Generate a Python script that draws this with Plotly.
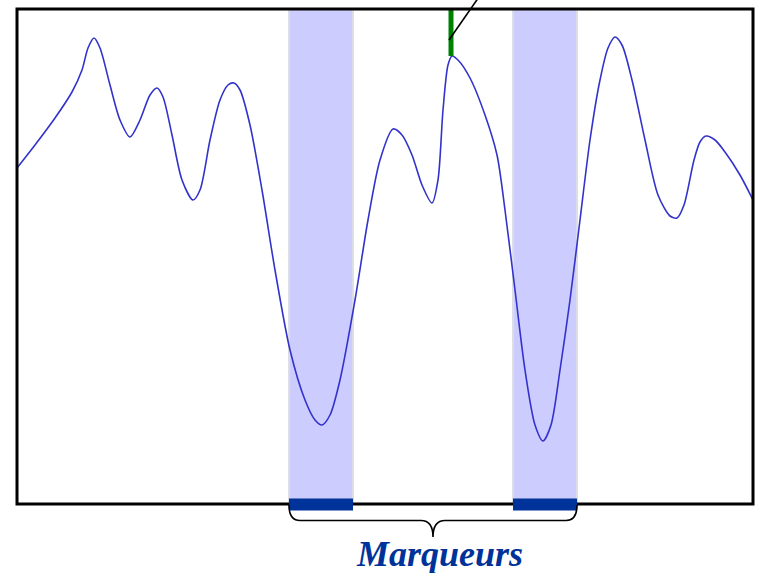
import plotly.graph_objects as go

# Signal curve (x position, signal value)
curve_x = [17, 35, 55, 72, 82, 88, 94, 100, 110, 120, 130, 140, 150, 157, 163, 172, 182, 193,
           200, 210, 220, 228, 234, 240, 250, 262, 275, 290, 305, 315, 322, 330, 340, 355, 368,
           380, 393, 402, 412, 422, 432, 438, 443, 448, 452, 458, 470, 485, 497, 505, 515, 525,
           535, 543, 551, 560, 570, 580, 590, 600, 608, 615, 622, 632, 645, 658, 670, 677, 684,
           694, 700, 706, 715, 725, 740, 753]
curve_py = [168, 145, 118, 92, 70, 48, 38, 48, 85, 120, 137, 120, 95, 88, 97, 135, 180, 200,
            190, 140, 100, 85, 83, 90, 125, 190, 270, 350, 400, 420, 425, 415, 380, 300, 220,
            160, 129, 135, 155, 185, 203, 180, 110, 65, 56, 60, 78, 115, 155, 210, 290, 370,
            425, 441, 425, 370, 300, 220, 140, 80, 48, 37, 45, 80, 140, 195, 216, 218, 205,
            160, 142, 136, 140, 152, 175, 200]
curve_y = [504 - v for v in curve_py]

# Marker bands (x extents)
band_x0 = [289, 513]
band_x1 = [353, 577]

# Green marker position
peak_x = 451
peak_y_top = 495
peak_y_bot = 504 - 56

label = "Marqueurs"

X0, X1 = 17, 753
H = 495.0


def py2paper(py):
    return (504 - py) / H


fig = go.Figure()
fig.add_trace(go.Scatter(x=curve_x, y=curve_y, mode="lines",
                         line=dict(color="#3333cc", width=1.6, shape="spline", smoothing=0.8),
                         hoverinfo="skip", showlegend=False))

shapes = []
for a, b in zip(band_x0, band_x1):
    shapes.append(dict(type="rect", xref="x", yref="paper", x0=a, x1=b, y0=0, y1=1,
                       fillcolor="#ccccff", line=dict(color="#dddde6", width=2), layer="below"))

# green marker
shapes.append(dict(type="line", xref="x", yref="y", x0=peak_x, x1=peak_x,
                   y0=peak_y_bot, y1=peak_y_top + 2, line=dict(color="#008000", width=5)))
# diagonal pointer line
shapes.append(dict(type="line", xref="x", yref="paper", x0=449, x1=481,
                   y0=py2paper(40), y1=py2paper(-6), line=dict(color="black", width=1.6)))
# border
shapes.append(dict(type="rect", xref="paper", yref="paper", x0=0, x1=1, y0=0, y1=1,
                   line=dict(color="black", width=3)))
# dark bars at bottom
for a, b in zip(band_x0, band_x1):
    shapes.append(dict(type="rect", xref="x", yref="paper", x0=a, x1=b,
                       y0=py2paper(510.5), y1=py2paper(498.5),
                       fillcolor="#003399", line=dict(width=0)))

# brace
lx, rx = band_x0[0], band_x1[1]
cx = (lx + rx) / 2
yt, ym, yb = py2paper(505), py2paper(520.5), py2paper(537)
path = (f"M {lx},{yt} Q {lx},{ym} {lx+11},{ym} L {cx-12},{ym} Q {cx},{ym} {cx},{yb} "
        f"Q {cx},{ym} {cx+12},{ym} L {rx-11},{ym} Q {rx},{ym} {rx},{yt}")
shapes.append(dict(type="path", xref="x", yref="paper", path=path,
                   line=dict(color="black", width=1.6)))

fig.update_layout(
    width=759, height=573,
    margin=dict(l=17, r=6, t=9, b=69),
    paper_bgcolor="white", plot_bgcolor="white",
    xaxis=dict(range=[X0, X1], visible=False, fixedrange=True),
    yaxis=dict(range=[0, H], visible=False, fixedrange=True),
    shapes=shapes,
    annotations=[dict(text=label, xref="x", yref="paper", x=cx + 6, y=py2paper(554),
                      showarrow=False, xanchor="center", yanchor="middle",
                      font=dict(family="Liberation Serif", size=36, color="#003399",
                                style="italic", weight="bold"))],
    showlegend=False,
)

fig.write_html("out.html", config={"displayModeBar": False},
               post_script="document.body.style.margin='0';document.body.style.overflow='hidden';")
